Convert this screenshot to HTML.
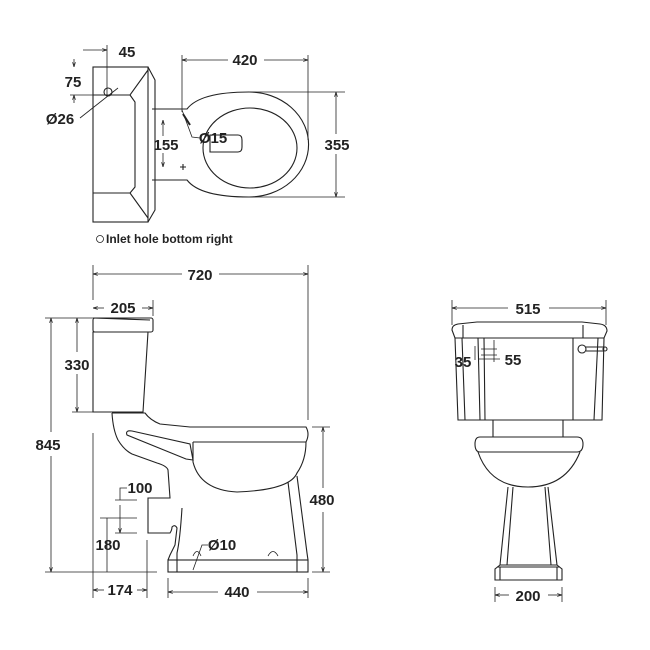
<!DOCTYPE html>
<html><head><style>
html,body{margin:0;padding:0;background:#fff;}
svg{display:block}
text{font-family:"Liberation Sans",sans-serif;font-weight:bold;font-size:15px;fill:#222;}
</style></head><body>
<svg width="650" height="650" viewBox="0 0 650 650" xmlns="http://www.w3.org/2000/svg">
<defs>
<marker id="a" viewBox="0 0 10 10" refX="10" refY="5" markerWidth="6" markerHeight="6" orient="auto-start-reverse"><path d="M0,2 L10,5 L0,8" fill="none" stroke="#222" stroke-width="1.5"/></marker>
</defs>
<g fill="none" stroke="#222" stroke-width="1.1">
<rect x="93" y="67" width="55" height="155"/>
<path d="M148,67 L155,80 L155,210 L148,222"/>
<path d="M93,95 L130,95 L148,70 M130,95 L135,102 L135,187 L130,193 L148,218 M93,193 L130,193"/>
<path d="M152,109 L187,109 Q200,92 249,92 A59,52 0 1 1 249,197 Q200,197 187,180 L152,180"/>
<ellipse cx="250" cy="148" rx="47" ry="40"/>
<path d="M210,135 L238,135 Q242,135 242,140 L242,147 Q242,152 238,152 L210,152 Z"/>
<path d="M183,114 L190,125" stroke-width="2"/>
<path d="M182,110 L192,137 L200,138" stroke-width="0.8"/>
<path d="M180,167 h6 M183,164 v6" />
<path d="M80,118 L118,88" stroke-width="0.8"/>
<circle cx="108" cy="92" r="4"/>
<line x1="107" y1="45" x2="107" y2="95" stroke-width="0.8"/>
<line x1="83" y1="50" x2="107" y2="50" stroke-width="0.8" marker-end="url(#a)"/>
<line x1="74" y1="59" x2="74" y2="67" stroke-width="0.8" marker-end="url(#a)"/>
<line x1="74" y1="103" x2="74" y2="95" stroke-width="0.8" marker-end="url(#a)"/>
<line x1="70" y1="95" x2="93" y2="95" stroke-width="0.8"/>
<line x1="182" y1="55" x2="182" y2="112" stroke-width="0.8"/>
<line x1="308" y1="55" x2="308" y2="140" stroke-width="0.8"/>
<line x1="182" y1="60" x2="228" y2="60" stroke-width="0.8" marker-start="url(#a)"/>
<line x1="264" y1="60" x2="308" y2="60" stroke-width="0.8" marker-end="url(#a)"/>
<line x1="250" y1="92" x2="345" y2="92" stroke-width="0.8"/>
<line x1="250" y1="197" x2="345" y2="197" stroke-width="0.8"/>
<line x1="336" y1="92" x2="336" y2="134" stroke-width="0.8" marker-start="url(#a)"/>
<line x1="336" y1="154" x2="336" y2="197" stroke-width="0.8" marker-end="url(#a)"/>
<line x1="163" y1="120" x2="163" y2="136" stroke-width="0.8" marker-start="url(#a)"/>
<line x1="163" y1="153" x2="163" y2="167" stroke-width="0.8" marker-end="url(#a)"/>
<circle cx="100" cy="239" r="3.5" stroke-width="0.8"/>

<rect x="93" y="318" width="60" height="14" rx="2"/>
<path d="M93,332 L148,332 L143,412 L93,412 Z M93,318 L150,320"/>
<path d="M112,413 L145,413 Q150,420 160,424 L190,427 L306,427 Q310,434 306,442 L193,442 M112,413 Q113,430 118,440 Q124,450 132,454 L157,463 Q167,466 168,470 L170,498 L148,498 L148,533 L170,533 Q172,530 172,527 Q175,524 177,528 L175,545 L170,555 L168,560"/>
<path d="M193,442 L193,462 Q200,490 237,492 Q290,490 297,473 Q306,460 306,442"/>
<path d="M127,435 Q125,430 132,431 L190,444 L193,460 L186,459 Z"/>
<rect x="168" y="560" width="140" height="12"/>
<path d="M177,560 V572 M297,560 V572"/>
<path d="M182,508 Q180,540 177,553 L177,560"/>
<path d="M288,482 L297,555 L297,560 M297,476 L307,553 L308,560"/>
<path d="M193,556 Q197,547 201,556 M268,556 Q273,547 278,556" stroke-width="0.8"/>
<line x1="93" y1="265" x2="93" y2="300" stroke-width="0.8"/>
<line x1="308" y1="265" x2="308" y2="420" stroke-width="0.8"/>
<line x1="93" y1="274" x2="182" y2="274" stroke-width="0.8" marker-start="url(#a)"/>
<line x1="219" y1="274" x2="308" y2="274" stroke-width="0.8" marker-end="url(#a)"/>
<line x1="153" y1="300" x2="153" y2="316" stroke-width="0.8"/>
<line x1="93" y1="308" x2="104" y2="308" stroke-width="0.8" marker-start="url(#a)"/>
<line x1="142" y1="308" x2="153" y2="308" stroke-width="0.8" marker-end="url(#a)"/>
<line x1="45" y1="318" x2="93" y2="318" stroke-width="0.8"/>
<line x1="72" y1="412" x2="93" y2="412" stroke-width="0.8"/>
<line x1="77" y1="318" x2="77" y2="352" stroke-width="0.8" marker-start="url(#a)"/>
<line x1="77" y1="374" x2="77" y2="412" stroke-width="0.8" marker-end="url(#a)"/>
<line x1="51" y1="318" x2="51" y2="432" stroke-width="0.8" marker-start="url(#a)"/>
<line x1="51" y1="456" x2="51" y2="572" stroke-width="0.8" marker-end="url(#a)"/>
<line x1="45" y1="572" x2="157" y2="572" stroke-width="0.8"/>
<line x1="93" y1="433" x2="93" y2="598" stroke-width="0.8"/>
<line x1="147" y1="540" x2="147" y2="598" stroke-width="0.8"/>
<line x1="93" y1="590" x2="104" y2="590" stroke-width="0.8" marker-start="url(#a)"/>
<line x1="137" y1="590" x2="147" y2="590" stroke-width="0.8" marker-end="url(#a)"/>
<line x1="168" y1="578" x2="168" y2="598" stroke-width="0.8"/>
<line x1="308" y1="578" x2="308" y2="598" stroke-width="0.8"/>
<line x1="168" y1="592" x2="218" y2="592" stroke-width="0.8" marker-start="url(#a)"/>
<line x1="257" y1="592" x2="308" y2="592" stroke-width="0.8" marker-end="url(#a)"/>
<line x1="312" y1="427" x2="330" y2="427" stroke-width="0.8"/>
<line x1="312" y1="572" x2="330" y2="572" stroke-width="0.8"/>
<line x1="323" y1="427" x2="323" y2="488" stroke-width="0.8" marker-start="url(#a)"/>
<line x1="323" y1="512" x2="323" y2="572" stroke-width="0.8" marker-end="url(#a)"/>
<path d="M115,500 H137 M115,533 H137 M100,518 H137" stroke-width="0.8"/>
<path d="M127,488 H120 V500" stroke-width="0.8"/>
<line x1="120" y1="505" x2="120" y2="533" stroke-width="0.8" marker-end="url(#a)"/>
<line x1="107" y1="518" x2="107" y2="572" stroke-width="0.8"/>
<path d="M208,545 L202,545 L193,570" stroke-width="0.8"/>
<line x1="452" y1="300" x2="452" y2="325" stroke-width="0.8"/>
<line x1="606" y1="300" x2="606" y2="325" stroke-width="0.8"/>
<line x1="452" y1="308" x2="508" y2="308" stroke-width="0.8" marker-start="url(#a)"/>
<line x1="549" y1="308" x2="606" y2="308" stroke-width="0.8" marker-end="url(#a)"/>
<path d="M455,338 L452,330 Q452,325 458,324 L477,322 L582,322 L600,324 Q607,325 607,331 L604,338 Z"/>
<path d="M455,338 L458,420 L602,420 L604,338 M462,338 L465,420 M478,338 L480,420 M484,338 L485,420 M573,338 L573,420 M598,338 L594,420"/>
<path d="M463,325 V338 M583,325 V338"/>
<circle cx="582" cy="349" r="4"/>
<path d="M586,347 H604 M586,351 H604"/>
<circle cx="605" cy="349" r="2"/>
<path d="M475,346 V360 M481,349 H497 M481,355 H497 M494,340 V362" stroke-width="0.8"/>
<path d="M478,359 H500" stroke-width="0.8"/>
<path d="M493,420 V437 M563,420 V437"/>
<path d="M480,437 L577,437 Q583,437 583,444 Q583,452 577,452 L480,452 Q475,452 475,444 Q475,437 480,437 Z"/>
<path d="M478,452 Q490,487 528,487 Q566,487 580,452"/>
<path d="M508,487 L500,565 M548,487 L557,565 M513,487 L507,565 M545,487 L551,565"/>
<path d="M500,565 L495,569 L495,580 L562,580 L562,569 L557,565 Z M497,567 H560 M500,567 V580 M557,567 V580"/>
<line x1="495" y1="587" x2="495" y2="602" stroke-width="0.8"/>
<line x1="562" y1="587" x2="562" y2="602" stroke-width="0.8"/>
<line x1="495" y1="595" x2="509" y2="595" stroke-width="0.8" marker-start="url(#a)"/>
<line x1="548" y1="595" x2="562" y2="595" stroke-width="0.8" marker-end="url(#a)"/>
</g>
<text x="127" y="57" text-anchor="middle">45</text>
<text x="73" y="87" text-anchor="middle">75</text>
<text x="60" y="124" text-anchor="middle">Ø26</text>
<text x="245" y="65" text-anchor="middle">420</text>
<text x="337" y="150" text-anchor="middle">355</text>
<text x="166" y="150" text-anchor="middle">155</text>
<text x="213" y="143" text-anchor="middle">Ø15</text>
<text x="106" y="243" style="font-size:12px">Inlet hole bottom right</text>
<text x="200" y="280" text-anchor="middle">720</text>
<text x="123" y="313" text-anchor="middle">205</text>
<text x="77" y="370" text-anchor="middle">330</text>
<text x="48" y="450" text-anchor="middle">845</text>
<text x="322" y="505" text-anchor="middle">480</text>
<text x="140" y="493" text-anchor="middle">100</text>
<text x="108" y="550" text-anchor="middle">180</text>
<text x="120" y="595" text-anchor="middle">174</text>
<text x="237" y="597" text-anchor="middle">440</text>
<text x="222" y="550" text-anchor="middle">Ø10</text>
<text x="528" y="314" text-anchor="middle">515</text>
<text x="463" y="367" text-anchor="middle">35</text>
<text x="513" y="365" text-anchor="middle">55</text>
<text x="528" y="601" text-anchor="middle">200</text>
</svg>
</body></html>
